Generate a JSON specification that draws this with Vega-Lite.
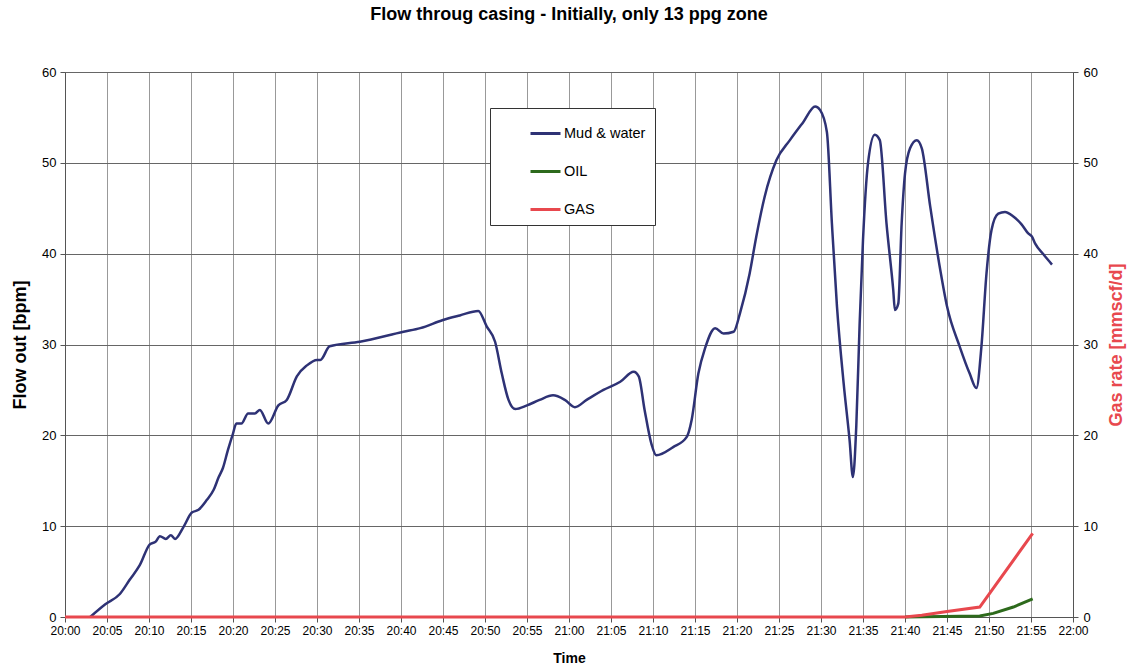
{
  "$schema": "https://vega.github.io/schema/vega-lite/v6.json",
  "width": 1008,
  "height": 545,
  "autosize": "none",
  "padding": {"left": 65, "top": 72, "right": 60, "bottom": 51},
  "background": "white",
  "title": {
    "text": "Flow throug casing - Initially, only 13 ppg zone",
    "fontSize": 18,
    "fontWeight": "bold",
    "font": "Liberation Sans",
    "color": "black",
    "anchor": "middle",
    "offset": 42
  },
  "config": {
    "font": "Liberation Sans",
    "view": {"stroke": "#aaa"},
    "axis": {
      "labelColor": "black",
      "titleColor": "black",
      "domainColor": "#555",
      "tickColor": "#555"
    }
  },
  "data": {
    "values": [
      {"minutes_after_2000": 3.0, "series": "Mud & water", "value": 0},
      {"minutes_after_2000": 4.8, "series": "Mud & water", "value": 1.4},
      {"minutes_after_2000": 6.5, "series": "Mud & water", "value": 2.5},
      {"minutes_after_2000": 7.7, "series": "Mud & water", "value": 4.1},
      {"minutes_after_2000": 8.9, "series": "Mud & water", "value": 5.7},
      {"minutes_after_2000": 10.1, "series": "Mud & water", "value": 8.0},
      {"minutes_after_2000": 10.8, "series": "Mud & water", "value": 8.3},
      {"minutes_after_2000": 11.3, "series": "Mud & water", "value": 8.9},
      {"minutes_after_2000": 12.0, "series": "Mud & water", "value": 8.6},
      {"minutes_after_2000": 12.6, "series": "Mud & water", "value": 9.0},
      {"minutes_after_2000": 13.1, "series": "Mud & water", "value": 8.6},
      {"minutes_after_2000": 14.1, "series": "Mud & water", "value": 9.9},
      {"minutes_after_2000": 15.1, "series": "Mud & water", "value": 11.5},
      {"minutes_after_2000": 15.9, "series": "Mud & water", "value": 11.8},
      {"minutes_after_2000": 16.9, "series": "Mud & water", "value": 12.9},
      {"minutes_after_2000": 17.7, "series": "Mud & water", "value": 14.0},
      {"minutes_after_2000": 18.3, "series": "Mud & water", "value": 15.4},
      {"minutes_after_2000": 18.8, "series": "Mud & water", "value": 16.4},
      {"minutes_after_2000": 19.4, "series": "Mud & water", "value": 18.4},
      {"minutes_after_2000": 20.0, "series": "Mud & water", "value": 20.2},
      {"minutes_after_2000": 20.4, "series": "Mud & water", "value": 21.3},
      {"minutes_after_2000": 21.0, "series": "Mud & water", "value": 21.3},
      {"minutes_after_2000": 21.8, "series": "Mud & water", "value": 22.4},
      {"minutes_after_2000": 22.6, "series": "Mud & water", "value": 22.4},
      {"minutes_after_2000": 23.2, "series": "Mud & water", "value": 22.8},
      {"minutes_after_2000": 24.2, "series": "Mud & water", "value": 21.3},
      {"minutes_after_2000": 25.4, "series": "Mud & water", "value": 23.3},
      {"minutes_after_2000": 26.4, "series": "Mud & water", "value": 23.9},
      {"minutes_after_2000": 27.6, "series": "Mud & water", "value": 26.5},
      {"minutes_after_2000": 28.8, "series": "Mud & water", "value": 27.7},
      {"minutes_after_2000": 30.0, "series": "Mud & water", "value": 28.3},
      {"minutes_after_2000": 30.4, "series": "Mud & water", "value": 28.3},
      {"minutes_after_2000": 31.5, "series": "Mud & water", "value": 29.8},
      {"minutes_after_2000": 35.1, "series": "Mud & water", "value": 30.3},
      {"minutes_after_2000": 40.3, "series": "Mud & water", "value": 31.4},
      {"minutes_after_2000": 42.3, "series": "Mud & water", "value": 31.8},
      {"minutes_after_2000": 45.0, "series": "Mud & water", "value": 32.7},
      {"minutes_after_2000": 47.0, "series": "Mud & water", "value": 33.2},
      {"minutes_after_2000": 49.2, "series": "Mud & water", "value": 33.7},
      {"minutes_after_2000": 50.2, "series": "Mud & water", "value": 32.0},
      {"minutes_after_2000": 51.2, "series": "Mud & water", "value": 30.3},
      {"minutes_after_2000": 52.0, "series": "Mud & water", "value": 26.8},
      {"minutes_after_2000": 52.8, "series": "Mud & water", "value": 23.9},
      {"minutes_after_2000": 53.6, "series": "Mud & water", "value": 22.9},
      {"minutes_after_2000": 55.0, "series": "Mud & water", "value": 23.3},
      {"minutes_after_2000": 56.5, "series": "Mud & water", "value": 23.9},
      {"minutes_after_2000": 58.1, "series": "Mud & water", "value": 24.4},
      {"minutes_after_2000": 59.5, "series": "Mud & water", "value": 23.9},
      {"minutes_after_2000": 60.7, "series": "Mud & water", "value": 23.1},
      {"minutes_after_2000": 62.1, "series": "Mud & water", "value": 23.9},
      {"minutes_after_2000": 64.1, "series": "Mud & water", "value": 25.0},
      {"minutes_after_2000": 66.1, "series": "Mud & water", "value": 25.9},
      {"minutes_after_2000": 67.7, "series": "Mud & water", "value": 27.0},
      {"minutes_after_2000": 68.3, "series": "Mud & water", "value": 26.5},
      {"minutes_after_2000": 69.0, "series": "Mud & water", "value": 22.8},
      {"minutes_after_2000": 69.8, "series": "Mud & water", "value": 19.1},
      {"minutes_after_2000": 70.4, "series": "Mud & water", "value": 17.8},
      {"minutes_after_2000": 72.4, "series": "Mud & water", "value": 18.7},
      {"minutes_after_2000": 74.0, "series": "Mud & water", "value": 19.8},
      {"minutes_after_2000": 74.6, "series": "Mud & water", "value": 21.7},
      {"minutes_after_2000": 75.4, "series": "Mud & water", "value": 26.8},
      {"minutes_after_2000": 76.2, "series": "Mud & water", "value": 29.6},
      {"minutes_after_2000": 77.4, "series": "Mud & water", "value": 31.8},
      {"minutes_after_2000": 78.4, "series": "Mud & water", "value": 31.2},
      {"minutes_after_2000": 79.6, "series": "Mud & water", "value": 31.4},
      {"minutes_after_2000": 80.4, "series": "Mud & water", "value": 33.6},
      {"minutes_after_2000": 81.5, "series": "Mud & water", "value": 37.8},
      {"minutes_after_2000": 82.3, "series": "Mud & water", "value": 41.9},
      {"minutes_after_2000": 83.3, "series": "Mud & water", "value": 46.3},
      {"minutes_after_2000": 84.7, "series": "Mud & water", "value": 50.3},
      {"minutes_after_2000": 86.3, "series": "Mud & water", "value": 52.5},
      {"minutes_after_2000": 87.9, "series": "Mud & water", "value": 54.5},
      {"minutes_after_2000": 89.3, "series": "Mud & water", "value": 56.2},
      {"minutes_after_2000": 89.9, "series": "Mud & water", "value": 55.8},
      {"minutes_after_2000": 90.7, "series": "Mud & water", "value": 53.4},
      {"minutes_after_2000": 91.3, "series": "Mud & water", "value": 43.3},
      {"minutes_after_2000": 91.9, "series": "Mud & water", "value": 34.2},
      {"minutes_after_2000": 92.7, "series": "Mud & water", "value": 25.7},
      {"minutes_after_2000": 93.4, "series": "Mud & water", "value": 19.5},
      {"minutes_after_2000": 93.8, "series": "Mud & water", "value": 15.4},
      {"minutes_after_2000": 94.2, "series": "Mud & water", "value": 21.0},
      {"minutes_after_2000": 94.6, "series": "Mud & water", "value": 32.3},
      {"minutes_after_2000": 95.0, "series": "Mud & water", "value": 41.5},
      {"minutes_after_2000": 95.6, "series": "Mud & water", "value": 50.0},
      {"minutes_after_2000": 96.4, "series": "Mud & water", "value": 53.1},
      {"minutes_after_2000": 97.0, "series": "Mud & water", "value": 52.5},
      {"minutes_after_2000": 97.8, "series": "Mud & water", "value": 43.3},
      {"minutes_after_2000": 98.6, "series": "Mud & water", "value": 36.0},
      {"minutes_after_2000": 98.8, "series": "Mud & water", "value": 33.8},
      {"minutes_after_2000": 99.2, "series": "Mud & water", "value": 34.5},
      {"minutes_after_2000": 99.6, "series": "Mud & water", "value": 43.3},
      {"minutes_after_2000": 100.0, "series": "Mud & water", "value": 48.8},
      {"minutes_after_2000": 100.6, "series": "Mud & water", "value": 51.6},
      {"minutes_after_2000": 101.4, "series": "Mud & water", "value": 52.5},
      {"minutes_after_2000": 102.0, "series": "Mud & water", "value": 51.6},
      {"minutes_after_2000": 103.0, "series": "Mud & water", "value": 45.2},
      {"minutes_after_2000": 104.2, "series": "Mud & water", "value": 38.2},
      {"minutes_after_2000": 105.0, "series": "Mud & water", "value": 34.2},
      {"minutes_after_2000": 106.5, "series": "Mud & water", "value": 29.8},
      {"minutes_after_2000": 107.7, "series": "Mud & water", "value": 26.8},
      {"minutes_after_2000": 108.5, "series": "Mud & water", "value": 25.2},
      {"minutes_after_2000": 109.1, "series": "Mud & water", "value": 29.8},
      {"minutes_after_2000": 109.7, "series": "Mud & water", "value": 37.8},
      {"minutes_after_2000": 110.3, "series": "Mud & water", "value": 42.6},
      {"minutes_after_2000": 111.1, "series": "Mud & water", "value": 44.4},
      {"minutes_after_2000": 111.9, "series": "Mud & water", "value": 44.6},
      {"minutes_after_2000": 112.9, "series": "Mud & water", "value": 44.1},
      {"minutes_after_2000": 113.9, "series": "Mud & water", "value": 43.2},
      {"minutes_after_2000": 114.7, "series": "Mud & water", "value": 42.2},
      {"minutes_after_2000": 115.1, "series": "Mud & water", "value": 41.9},
      {"minutes_after_2000": 115.5, "series": "Mud & water", "value": 41.1},
      {"minutes_after_2000": 116.5, "series": "Mud & water", "value": 39.9},
      {"minutes_after_2000": 117.5, "series": "Mud & water", "value": 38.8},
      {"minutes_after_2000": 100.0, "series": "OIL", "value": 0},
      {"minutes_after_2000": 108.9, "series": "OIL", "value": 0.1},
      {"minutes_after_2000": 110.5, "series": "OIL", "value": 0.4},
      {"minutes_after_2000": 112.9, "series": "OIL", "value": 1.1},
      {"minutes_after_2000": 115.2, "series": "OIL", "value": 2.0},
      {"minutes_after_2000": 0, "series": "GAS", "value": 0},
      {"minutes_after_2000": 100.0, "series": "GAS", "value": 0},
      {"minutes_after_2000": 102.0, "series": "GAS", "value": 0.2},
      {"minutes_after_2000": 105.0, "series": "GAS", "value": 0.6},
      {"minutes_after_2000": 108.9, "series": "GAS", "value": 1.1},
      {"minutes_after_2000": 115.2, "series": "GAS", "value": 9.2}
    ]
  },
  "encoding": {
    "x": {
      "field": "minutes_after_2000",
      "type": "quantitative",
      "scale": {"domain": [0, 120], "nice": false, "zero": false},
      "axis": {
        "title": "Time",
        "values": [0, 5, 10, 15, 20, 25, 30, 35, 40, 45, 50, 55, 60, 65, 70, 75, 80, 85, 90, 95, 100, 105, 110, 115, 120],
        "labelExpr": "(20 + floor(datum.value / 60)) + ':' + (datum.value % 60 < 10 ? '0' : '') + (datum.value % 60)",
        "labelFontSize": 12,
        "labelFlush": false,
        "labelOverlap": false,
        "tickSize": 5,
        "labelPadding": 3,
        "titleFontSize": 14,
        "titleFontWeight": "bold",
        "titlePadding": 15,
        "grid": true,
        "gridColor": "#999",
        "gridWidth": 1
      }
    },
    "color": {
      "field": "series",
      "type": "nominal",
      "scale": {
        "domain": ["Mud & water", "OIL", "GAS"],
        "range": ["#2e3275", "#2d6a1c", "#e8484e"]
      },
      "legend": {
        "title": null,
        "orient": "none",
        "legendX": 425,
        "legendY": 36,
        "symbolType": "stroke",
        "symbolSize": 900,
        "symbolStrokeWidth": 3,
        "symbolOffset": 30,
        "labelFontSize": 14.5,
        "labelColor": "black",
        "labelOffset": 2,
        "rowPadding": 15,
        "padding": 9,
        "strokeColor": "#333",
        "fillColor": "white"
      }
    }
  },
  "layer": [
    {
      "transform": [{"filter": "datum.series === 'Mud & water'"}],
      "mark": {"type": "line", "strokeWidth": 2.5, "interpolate": "monotone"},
      "encoding": {
        "y": {
          "field": "value",
          "type": "quantitative",
          "scale": {"domain": [0, 60]},
          "axis": {
            "title": "Flow out [bpm]",
            "orient": "left",
            "values": [0, 10, 20, 30, 40, 50, 60],
            "labelFontSize": 13,
            "tickSize": 5,
            "labelPadding": 4,
            "titleFontSize": 18,
            "titleFontWeight": "bold",
            "titlePadding": 12,
            "grid": true,
            "gridColor": "#666",
            "gridWidth": 1
          }
        }
      }
    },
    {
      "transform": [{"filter": "datum.series !== 'Mud & water'"}],
      "mark": {"type": "line", "strokeWidth": 3},
      "encoding": {
        "y": {
          "field": "value",
          "type": "quantitative",
          "scale": {"domain": [0, 60]},
          "axis": {
            "title": "Gas rate [mmscf/d]",
            "orient": "right",
            "values": [0, 10, 20, 30, 40, 50, 60],
            "labelFontSize": 13,
            "tickSize": 5,
            "labelPadding": 5,
            "titleFontSize": 18,
            "titleFontWeight": "bold",
            "titleColor": "#e8484e",
            "titleAngle": 270,
            "titlePadding": 28,
            "grid": false
          }
        }
      }
    }
  ],
  "resolve": {"scale": {"y": "independent"}}
}
